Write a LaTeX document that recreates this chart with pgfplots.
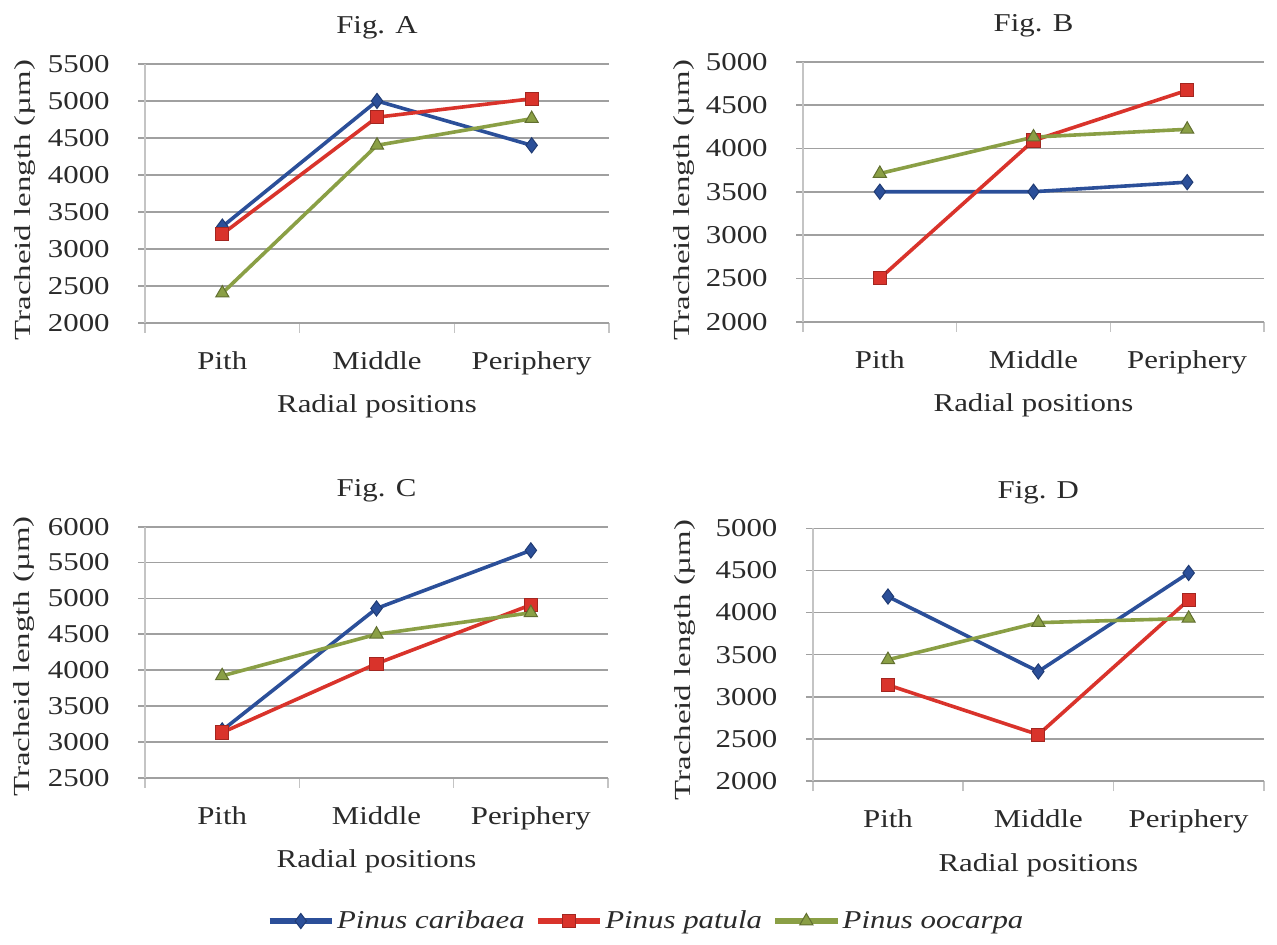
\documentclass[border=0pt]{standalone}
\usepackage{fontspec}
\setmainfont[FakeStretch=1.2]{Liberation Serif}
\newfontfamily\ylabfont[FakeStretch=1.43]{Liberation Serif}
\usepackage{pgfplots}
\pgfplotsset{compat=1.18}
\definecolor{cblue}{HTML}{2B4F99}
\definecolor{cred}{HTML}{D9332B}
\definecolor{cgreen}{HTML}{8A9F45}
\definecolor{gridc}{HTML}{A0A0A0}
\definecolor{axc}{HTML}{C4C4C4}
\definecolor{txt}{HTML}{2A2A2A}
\newcommand{\lab}{\fontsize{12.85}{15}\selectfont}
\pgfplotsset{
  panel/.style={
    scale only axis,
    xmin=0.5, xmax=3.5,
    xtick={1,2,3},
    xticklabels={Pith,Middle,Periphery},
    minor xtick={0.5,1.5,2.5,3.5},
    axis x line*=bottom,
    axis y line*=left,
    x axis line style={gridc, line width=0.8pt, -},
    y axis line style={axc, line width=0.8pt, -},
    ymajorgrids,
    major grid style={gridc, line width=0.8pt},
    tick align=outside,
    major tick length=3.5pt,
    minor tick length=5pt,
    every major x tick/.append style={draw=none},
    every minor x tick/.append style={axc, line width=0.8pt},
    every major y tick/.append style={gridc, line width=0.8pt},
    ytick distance=500,
    /pgf/number format/assume math mode=true,
    /pgf/number format/1000 sep={},
    tick label style={font=\lab, text=txt},
    yticklabel style={anchor=east, inner sep=0pt, xshift=-14pt},
    xticklabel style={anchor=base, inner sep=0pt, yshift=-19.8pt},
    xlabel={Radial positions},
    xlabel style={at={(axis description cs:0.5,0)}, anchor=base, yshift=-45pt, font=\lab, text=txt, inner sep=0pt},
    ylabel={Tracheid length (µm)},
    ylabel style={anchor=base, font=\ylabfont\fontsize{11.5}{13}\selectfont, text=txt, inner sep=0pt},
    title style={at={(axis description cs:0.5,1)}, anchor=base, yshift=9pt, font=\lab, text=txt, inner sep=0pt},
    clip=false,
  },
  sb/.style={cblue, line width=1.8pt, mark=diamond*, mark size=3.8pt, mark options={fill=cblue, draw=cblue!75!black, line width=0.5pt}},
  sr/.style={cred, line width=1.8pt, mark=square*, mark size=3.3pt, mark options={fill=cred, draw=cred!75!black, line width=0.5pt}},
  sg/.style={cgreen, line width=1.8pt, mark=triangle*, mark size=3.8pt, mark options={fill=cgreen, draw=cgreen!70!black, line width=0.5pt}},
}
\begin{document}
\begin{tikzpicture}
\path[use as bounding box] (0,0) rectangle (638.5pt,472pt);
% Fig. A
\begin{axis}[panel, at={(72.5pt,310.65pt)}, anchor=south west, width=232pt, height=129.35pt,
  ymin=2000, ymax=5500, title={Fig. A},
  ylabel style={at={(axis description cs:-0.2478,0.474)}}]
\addplot[sb] coordinates {(1,3300) (2,5000) (3,4400)};
\addplot[sr] coordinates {(1,3200) (2,4780) (3,5030)};
\addplot[sg] coordinates {(1,2400) (2,4400) (3,4760)};
\end{axis}
% Fig. B
\begin{axis}[panel, at={(401.5pt,311.15pt)}, anchor=south west, width=230.5pt, height=130pt,
  ymin=2000, ymax=5000, title={Fig. B},
  ylabel style={at={(axis description cs:-0.247,0.468)}}]
\addplot[sb] coordinates {(1,3500) (2,3500) (3,3610)};
\addplot[sr] coordinates {(1,2500) (2,4090) (3,4670)};
\addplot[sg] coordinates {(1,3710) (2,4130) (3,4220)};
\end{axis}
% Fig. C
\begin{axis}[panel, at={(72.5pt,83.15pt)}, anchor=south west, width=231.5pt, height=125.5pt,
  ymin=2500, ymax=6000, title={Fig. C},
  ylabel style={at={(axis description cs:-0.2484,0.483)}},
  legend style={at={(axis description cs:1.082,-0.571)}, anchor=center, draw=none, fill=none,
    legend columns=3, font=\lab\itshape, text=txt, inner sep=0pt,
    nodes={inner xsep=1pt},
    /tikz/every even column/.append style={column sep=4pt}},
  legend image code/.code={\draw[line width=3pt, mark repeat=2,mark phase=2] plot coordinates {(0cm,0cm) (0.55cm,0cm) (1.1cm,0cm)};}]
\addplot[sb] coordinates {(1,3160) (2,4860) (3,5670)};
\addplot[sr] coordinates {(1,3130) (2,4090) (3,4910)};
\addplot[sg] coordinates {(1,3920) (2,4500) (3,4800)};
\legend{Pinus caribaea, Pinus patula, Pinus oocarpa}
\end{axis}
% Fig. D
\begin{axis}[panel, at={(406.4pt,81.5pt)}, anchor=south west, width=225.5pt, height=126.35pt,
  ymin=2000, ymax=5000, title={Fig. D},
  ylabel style={at={(axis description cs:-0.2705,0.479)}}]
\addplot[sb] coordinates {(1,4190) (2,3300) (3,4470)};
\addplot[sr] coordinates {(1,3140) (2,2550) (3,4150)};
\addplot[sg] coordinates {(1,3440) (2,3880) (3,3930)};
\end{axis}
\end{tikzpicture}
\end{document}
